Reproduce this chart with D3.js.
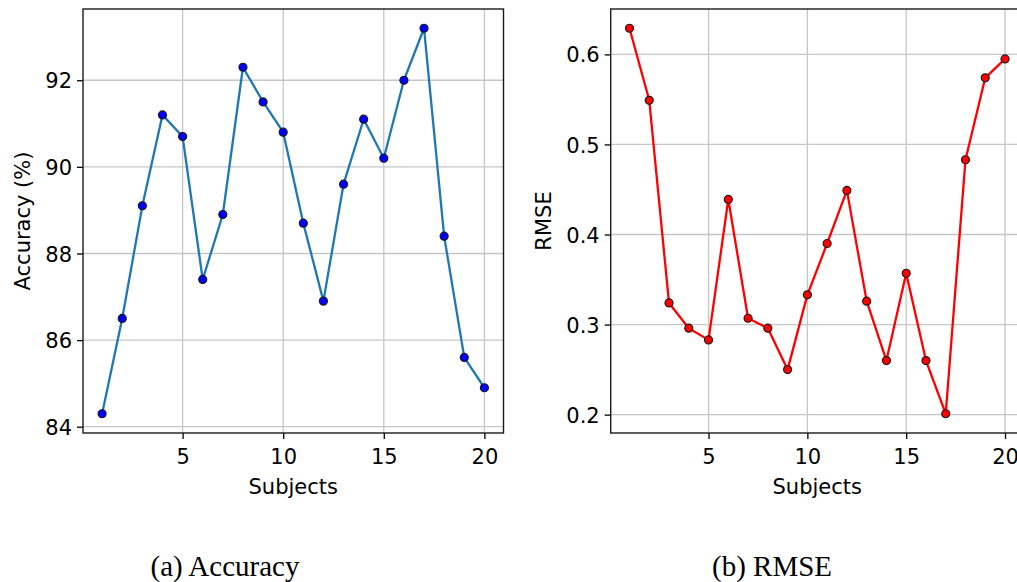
<!DOCTYPE html>
<html>
<head>
<meta charset="utf-8">
<script src="https://cdn.jsdelivr.net/npm/d3@7"></script>
<style>
  body { margin: 0; background: #fff; }
  svg { display: block; }
  .tick text { font-family: "DejaVu Sans", sans-serif; font-size: 21px; fill: #000; }
  .axis-label { font-family: "DejaVu Sans", sans-serif; font-size: 21px; fill: #000; }
  .caption { font-family: "Liberation Serif", "Times New Roman", serif; font-size: 29px; fill: #000; }
</style>
</head>
<body>
<svg id="chart"></svg>
<script>
// subjects 1..20
var subjects = [1, 2, 3, 4, 5, 6, 7, 8, 9, 10, 11, 12, 13, 14, 15, 16, 17, 18, 19, 20];

// accuracy per subject (%)
var accuracy = [84.3, 86.5, 89.1, 91.2, 90.7, 87.4, 88.9, 92.3, 91.5, 90.8,
                88.7, 86.9, 89.6, 91.1, 90.2, 92.0, 93.2, 88.4, 85.6, 84.9];

// rmse per subject
var rmse = [0.629, 0.549, 0.324, 0.296, 0.283, 0.439, 0.307, 0.296, 0.250, 0.333,
            0.390, 0.449, 0.326, 0.260, 0.357, 0.260, 0.201, 0.483, 0.574, 0.595];

var xTicks = [5, 10, 15, 20];
var accTicks = [84, 86, 88, 90, 92];
var rmseTicks = [0.2, 0.3, 0.4, 0.5, 0.6];

var W = 1017, H = 582;
var svg = d3.select("#chart").attr("width", W).attr("height", H);

// matplotlib style 5% padding on the data range
function padded(vals) {
    var lo = d3.min(vals), hi = d3.max(vals), m = (hi - lo) * 0.05;
    return [lo - m, hi + m];
}

function drawPanel(opts) {
    var x = d3.scaleLinear().domain(padded(subjects)).range([opts.left, opts.right]);
    var y = d3.scaleLinear().domain(padded(opts.values)).range([opts.bottom, opts.top]);

    var g = svg.append("g");

    // clip so the right panel gets cut at the window edge like the original
    var clipId = "clip-" + opts.name;
    g.append("clipPath").attr("id", clipId)
      .append("rect")
        .attr("x", opts.left).attr("y", opts.top)
        .attr("width", opts.right - opts.left).attr("height", opts.bottom - opts.top);

    // grid
    var grid = g.append("g").attr("clip-path", "url(#" + clipId + ")");
    grid.selectAll(".vgrid").data(xTicks).enter().append("line")
        .attr("x1", function(d) { return x(d); }).attr("x2", function(d) { return x(d); })
        .attr("y1", opts.top).attr("y2", opts.bottom)
        .attr("stroke", "#c6c6c6").attr("stroke-width", 1.3);
    grid.selectAll(".hgrid").data(opts.yTicks).enter().append("line")
        .attr("x1", opts.left).attr("x2", opts.right)
        .attr("y1", function(d) { return y(d); }).attr("y2", function(d) { return y(d); })
        .attr("stroke", "#c6c6c6").attr("stroke-width", 1.3);

    // axes
    var xAxis = g.append("g")
        .attr("transform", "translate(0," + opts.bottom + ")")
        .call(d3.axisBottom(x).tickValues(xTicks).tickSize(6).tickPadding(5).tickFormat(d3.format("d")));
    var yAxis = g.append("g")
        .attr("transform", "translate(" + opts.left + ",0)")
        .call(d3.axisLeft(y).tickValues(opts.yTicks).tickSize(6).tickPadding(5).tickFormat(opts.fmt));
    [xAxis, yAxis].forEach(function(a) {
        a.select(".domain").remove();
        a.selectAll(".tick line").attr("stroke", "#000").attr("stroke-width", 1.3);
    });
    xAxis.selectAll(".tick text").attr("dy", "0.95em");
    yAxis.selectAll(".tick text").attr("dy", "0.36em");

    // spines
    g.append("rect")
        .attr("x", opts.left).attr("y", opts.top)
        .attr("width", opts.right - opts.left).attr("height", opts.bottom - opts.top)
        .attr("fill", "none").attr("stroke", "#1a1a1a").attr("stroke-width", 1.4);

    // line + markers
    var line = d3.line()
        .x(function(d, i) { return x(subjects[i]); })
        .y(function(d) { return y(d); });
    g.append("path")
        .datum(opts.values)
        .attr("d", line)
        .attr("fill", "none")
        .attr("stroke", opts.lineColor)
        .attr("stroke-width", 2.3)
        .attr("stroke-linejoin", "round");
    g.selectAll(".dot").data(opts.values).enter().append("circle")
        .attr("cx", function(d, i) { return x(subjects[i]); })
        .attr("cy", function(d) { return y(d); })
        .attr("r", 4)
        .attr("fill", opts.dotColor)
        .attr("stroke", "#1a1a1a")
        .attr("stroke-width", 1.2);

    // labels
    svg.append("text").attr("class", "axis-label")
        .attr("x", (opts.left + opts.labelRight) / 2).attr("y", 486)
        .attr("dy", "0.36em")
        .attr("text-anchor", "middle")
        .text("Subjects");
    svg.append("text").attr("class", "axis-label")
        .attr("transform", "translate(" + opts.yLabelX + "," + ((opts.top + opts.bottom) / 2) + ") rotate(-90)")
        .attr("dy", "0.36em")
        .attr("text-anchor", "middle")
        .text(opts.yLabel);
    svg.append("text").attr("class", "caption")
        .attr("x", opts.captionX).attr("y", 566)
        .attr("dy", "0.34em")
        .attr("text-anchor", "middle")
        .text(opts.caption);
}

drawPanel({
    name: "acc", values: accuracy, yTicks: accTicks, fmt: d3.format("d"),
    left: 83, right: 503.5, top: 9, bottom: 433, labelRight: 503.5,
    lineColor: "#1f77b4", dotColor: "#0000ff",
    yLabel: "Accuracy (%)", yLabelX: 22,
    caption: "(a) Accuracy", captionX: 225
});

drawPanel({
    name: "rmse", values: rmse, yTicks: rmseTicks, fmt: d3.format(".1f"),
    left: 610.7, right: 1023.8, top: 9, bottom: 433, labelRight: 1023.8,
    lineColor: "#ff0000", dotColor: "#ff0000",
    yLabel: "RMSE", yLabelX: 543,
    caption: "(b) RMSE", captionX: 772
});
</script>
</body>
</html>
